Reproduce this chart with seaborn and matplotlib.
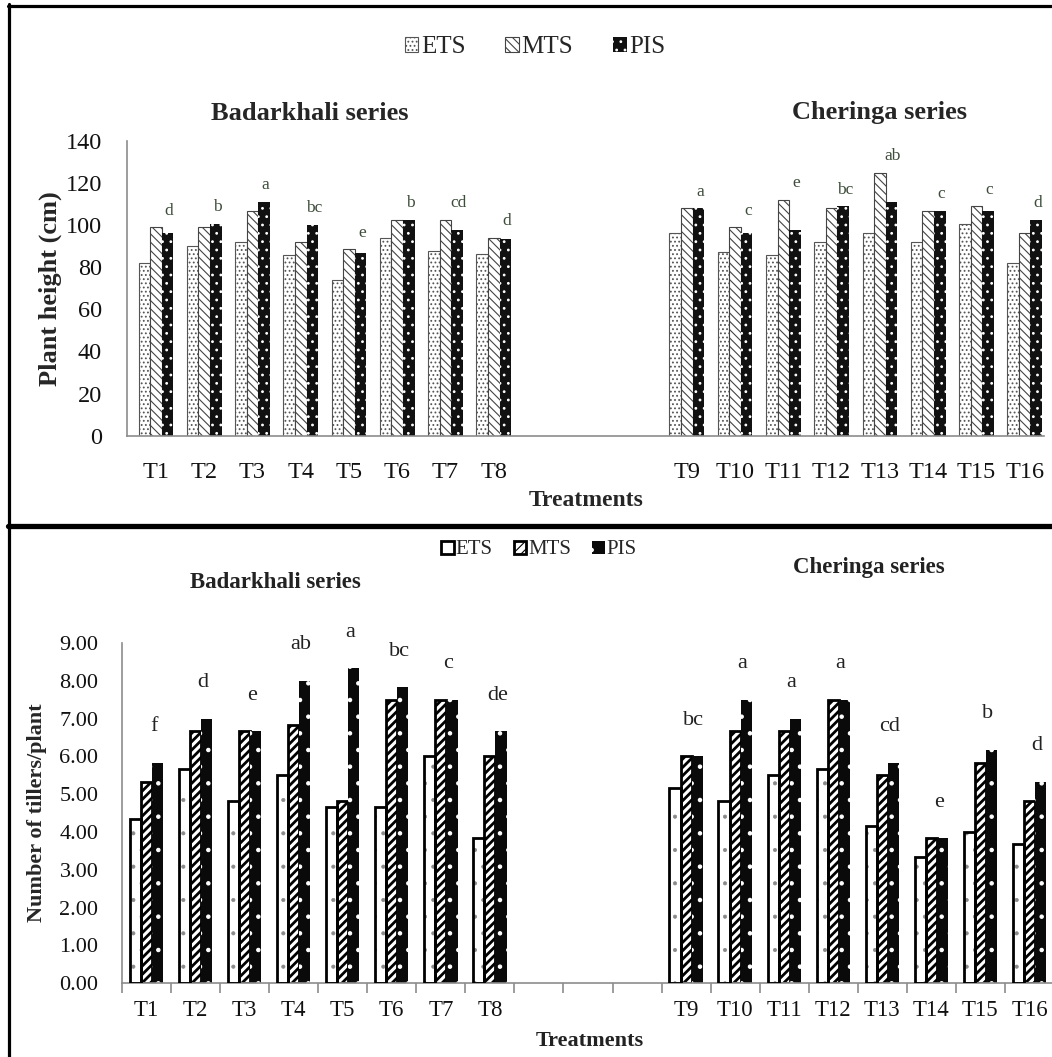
import numpy as np
import pandas as pd
import matplotlib
matplotlib.use("Agg")
import matplotlib.pyplot as plt
from matplotlib.lines import Line2D
from matplotlib.patches import Rectangle, Patch
import seaborn as sns

# Traitements (les trois vides font l'espace entre les deux séries)
treatments_a = ["T1", "T2", "T3", "T4", "T5", "T6", "T7", "T8"]
treatments_b = ["T9", "T10", "T11", "T12", "T13", "T14", "T15", "T16"]
gaps = ["", " ", "  "]
order = treatments_a + gaps + treatments_b
soils = ["ETS", "MTS", "PIS"]

# Hauteur des plantes (cm)
height_ets = [82, 90, 92, 86, 74, 94, 88, 86.5, 96.5, 87.5, 86, 92, 96.5, 92, 100.5, 82]
height_mts = [99, 99, 107, 92, 88.5, 102.5, 102.5, 94, 108, 99, 112, 108, 125, 107, 109, 96.5]
height_pis = [96.5, 100.5, 111, 100, 87, 102.5, 98, 93.5, 108, 96.5, 98, 109, 111, 107, 107, 102.5]
height_letters = ["d", "b", "a", "bc", "e", "b", "cd", "d", "a", "c", "e", "bc", "ab", "c", "c", "d"]

# Nombre de talles par plante
tillers_ets = [4.33, 5.67, 4.83, 5.50, 4.67, 4.67, 6.00, 3.83, 5.17, 4.83, 5.50, 5.67, 4.17, 3.33, 4.00, 3.67]
tillers_mts = [5.33, 6.67, 6.67, 6.83, 4.83, 7.50, 7.50, 6.00, 6.00, 6.67, 6.67, 7.50, 5.50, 3.83, 5.83, 4.83]
tillers_pis = [5.83, 7.00, 6.67, 8.00, 8.33, 7.83, 7.50, 6.67, 6.00, 7.50, 7.00, 7.50, 5.83, 3.83, 6.17, 5.33]
tillers_letters = ["f", "d", "e", "ab", "a", "bc", "c", "de", "bc", "a", "a", "a", "cd", "e", "b", "d"]


def make_long(ets, mts, pis):
    rows = []
    for soil, vals in zip(soils, [ets, mts, pis]):
        for t, v in zip(treatments_a + treatments_b, vals):
            rows.append({"Treatment": t, "Soil": soil, "Value": v})
    return pd.DataFrame(rows)


df_h = make_long(height_ets, height_mts, height_pis)
df_t = make_long(tillers_ets, tillers_mts, tillers_pis)

sns.set_theme(style="white")
plt.rcParams["font.family"] = ["Liberation Serif", "DejaVu Serif"]
plt.rcParams["hatch.linewidth"] = 0.8

W, H = 1052, 1057
fig = plt.figure(figsize=(W / 100, H / 100), dpi=100)


def box(left, bottom, right, top):
    return [left / W, 1 - bottom / H, (right - left) / W, (bottom - top) / H]


ax1 = fig.add_axes(box(127, 435.6, 1044, 141.2))
ax2 = fig.add_axes(box(122, 983.2, 1054, 642.9))

grey = "#8c8c8c"


def style_bars(ax, styles):
    for cont, soil in zip(ax.containers, soils):
        st = styles[soil]
        for p in cont:
            p.set_facecolor(st["fc"])
            p.set_edgecolor(st["ec"])
            p.set_hatch(st["hatch"])
            p.set_linewidth(st["lw"])
            if hasattr(p, "set_hatch_linewidth"):
                p.set_hatch_linewidth(st["hlw"])
            if st.get("outline"):
                # contour noir, les points restent gris
                ax.add_patch(Rectangle((p.get_x(), p.get_y()), p.get_width(),
                                       p.get_height(), fill=False,
                                       edgecolor=st["outline"], lw=2.0, zorder=3))


# ---------------- Graphique du haut : hauteur ----------------
sns.barplot(data=df_h, x="Treatment", y="Value", hue="Soil", order=order,
            hue_order=soils, palette=["white", "white", "black"], width=0.72,
            errorbar=None, legend=False, ax=ax1)
style_bars(ax1, {
    "ETS": dict(fc="white", ec="#555555", hatch="....", lw=0.8, hlw=0.8),
    "MTS": dict(fc="white", ec="#444444", hatch="\\\\\\\\", lw=0.8, hlw=0.8),
    "PIS": dict(fc="#111111", ec="white", hatch="..", lw=0, hlw=0.8),
})
ax1.set_xlim(-0.6, 18.4)
ax1.set_ylim(0, 140)
ax1.set_yticks(np.arange(0, 141, 20))
ax1.set_xlabel("")
ax1.set_ylabel("Plant height (cm)", fontsize=19, fontweight="bold")
ax1.yaxis.set_label_coords(-0.071, 0.5)
ax1.tick_params(axis="x", length=0, pad=19, labelsize=17.5)
ax1.tick_params(axis="y", length=8, width=1.2, color=grey, pad=10, labelsize=17.5)

hmax = np.maximum(np.maximum(height_ets, height_mts), height_pis)
for t, lab, m in zip(treatments_a + treatments_b, height_letters, hmax):
    ax1.text(order.index(t) + 0.27, m + 8, lab, ha="center", va="center",
             fontsize=12.5, color="#3d4d3a")

# ---------------- Graphique du bas : talles ----------------
sns.barplot(data=df_t, x="Treatment", y="Value", hue="Soil", order=order,
            hue_order=soils, palette=["white", "white", "black"], width=0.68,
            errorbar=None, legend=False, ax=ax2)
style_bars(ax2, {
    "ETS": dict(fc="white", ec="#8a8a8a", hatch=".", lw=0, hlw=0.5, outline="black"),
    "MTS": dict(fc="white", ec="black", hatch="////", lw=2.0, hlw=2.0),
    "PIS": dict(fc="#0a0a0a", ec="white", hatch=".", lw=0, hlw=0.8),
})
ax2.set_xlim(-0.5, 18.5)
ax2.set_ylim(0, 9)
ax2.set_yticks(np.arange(0, 10, 1))
ax2.set_yticklabels([f"{v:.2f}" for v in range(10)])
ax2.set_xticks(np.arange(-0.5, 19, 1), minor=True)
ax2.set_xlabel("")
ax2.set_ylabel("Number of tillers/plant", fontsize=16, fontweight="bold")
ax2.yaxis.set_label_coords(-0.08, 0.5)
ax2.tick_params(axis="x", which="major", length=0, pad=12, labelsize=16.5)
ax2.tick_params(axis="x", which="minor", length=7, width=1.2, color=grey, bottom=True)
ax2.tick_params(axis="y", length=8, width=1.2, color=grey, pad=9, labelsize=16)

tmax = np.maximum(np.maximum(tillers_ets, tillers_mts), tillers_pis)
for t, lab, m in zip(treatments_a + treatments_b, tillers_letters, tmax):
    ax2.text(order.index(t) + 0.15, m + 0.95, lab, ha="center", va="center",
             fontsize=16, color="#222222")

for ax in (ax1, ax2):
    sns.despine(ax=ax)
    for s in ("left", "bottom"):
        ax.spines[s].set_color(grey)
        ax.spines[s].set_linewidth(1.2)
    ax.tick_params(axis="both", colors="#111111", which="major")
    ax.tick_params(axis="both", which="both", color=grey)

# Légendes
fig.legend(handles=list(ax1.containers), labels=soils, loc="center",
           bbox_to_anchor=(535 / W, 1 - 47 / H), ncol=3, frameon=False,
           fontsize=18, handlelength=0.55, handleheight=0.55,
           handletextpad=0.1, columnspacing=1.6)
ets_handle = Patch(facecolor="white", edgecolor="black", lw=2.0)
fig.legend(handles=[ets_handle] + list(ax2.containers)[1:], labels=soils,
           loc="center", bbox_to_anchor=(539 / W, 1 - 550 / H), ncol=3,
           frameon=False, fontsize=15, handlelength=0.6, handleheight=0.6,
           handletextpad=0.1, columnspacing=1.0)

# Titres des séries et axes x
fig.text(310 / W, 1 - 113 / H, "Badarkhali series", ha="center", va="center",
         fontsize=19, fontweight="bold")
fig.text(879 / W, 1 - 113 / H, "Cheringa series", ha="center", va="center",
         fontsize=19, fontweight="bold")
fig.text(275 / W, 1 - 582 / H, "Badarkhali series", ha="center", va="center",
         fontsize=16.5, fontweight="bold", color="#222222")
fig.text(869 / W, 1 - 568 / H, "Cheringa series", ha="center", va="center",
         fontsize=16.5, fontweight="bold", color="#222222")
fig.text(586 / W, 1 - 500 / H, "Treatments", ha="center", va="center",
         fontsize=17, fontweight="bold")
fig.text(590 / W, 1 - 1041 / H, "Treatments", ha="center", va="center",
         fontsize=16, fontweight="bold", color="#222222")

# Cadres
fig.add_artist(Line2D([9.5 / W, 9.5 / W], [0, 1 - 4 / H], color="black", lw=2.3))
fig.add_artist(Line2D([8 / W, 1], [1 - 5.5 / H, 1 - 5.5 / H], color="black", lw=2.3))
fig.add_artist(Line2D([8 / W, 1], [1 - 525.5 / H, 1 - 525.5 / H], color="black", lw=3.8))

fig.savefig("out.png", dpi=100)
